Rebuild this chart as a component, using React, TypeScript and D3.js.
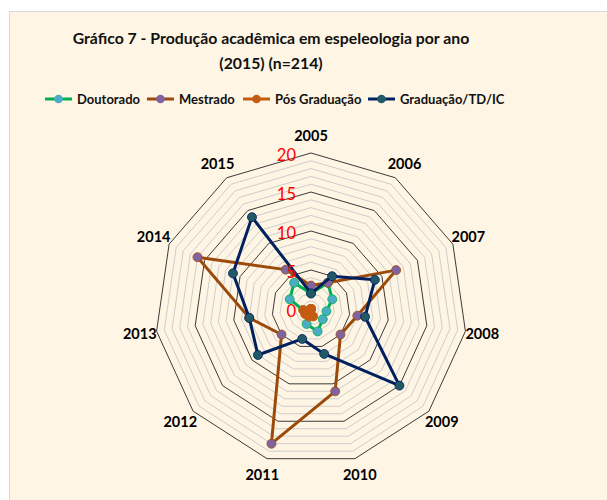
import { useEffect, useRef } from "react";
import * as d3 from "d3";

const years = ["2005", "2006", "2007", "2008", "2009", "2010", "2011", "2012", "2013", "2014", "2015"];
const doutorado = [2, 4, 3, 2, 2, 3, 2, 0, 1, 3, 4];
const mestrado = [3, 4, 12, 6, 5, 11, 18, 5, 8, 16, 6];
const posGraduacao = [0, 0, 0, 0, 0, 1, 1, 1, 1, 0, 0];
const graduacao = [2, 5, 9, 7, 15, 6, 4, 9, 8, 11, 14];
const radialTicks = [0, 5, 10, 15, 20];

const seriesList = [
    { name: "Doutorado", values: doutorado, line: "#00B050", marker: "#4BACC6" },
    { name: "Mestrado", values: mestrado, line: "#9C4A0A", marker: "#8064A2" },
    { name: "Pós Graduação", values: posGraduacao, line: "#C55A11", marker: "#C55A11" },
    { name: "Graduação/TD/IC", values: graduacao, line: "#002060", marker: "#215967" },
];

export default function App() {
    const ref = useRef<SVGSVGElement | null>(null);

    useEffect(() => {
        if (!ref.current) return;
        const width = 607;
        const height = 500;
        const cx = 311;
        const cy = 309;
        const font = "Lato, 'Liberation Sans', sans-serif";

        const svg = d3.select(ref.current).attr("width", width).attr("height", height);
        svg.selectAll("*").remove();

        svg.append("rect").attr("width", width).attr("height", height).attr("fill", "#ffffff");
        svg.append("rect")
            .attr("x", 9.5).attr("y", 11.5)
            .attr("width", width).attr("height", height)
            .attr("fill", "#FEF5E4")
            .attr("stroke", "#D9D9D9");

        // title
        const title = svg.append("text")
            .attr("text-anchor", "middle")
            .attr("font-family", font)
            .attr("font-weight", "bold")
            .attr("font-size", "15.8px")
            .attr("fill", "#111");
        title.append("tspan").attr("x", 271).attr("y", 44).text("Gráfico 7 - Produção acadêmica em espeleologia por ano");
        title.append("tspan").attr("x", 271).attr("y", 69).text("(2015) (n=214)");

        // legend
        const legendX = [45, 147, 243, 368];
        seriesList.forEach((s, i) => {
            const g = svg.append("g").attr("transform", `translate(${legendX[i]}, 99)`);
            g.append("line").attr("x1", 0).attr("x2", 27).attr("stroke", s.line).attr("stroke-width", 3);
            g.append("circle").attr("cx", 13.5).attr("r", 4.3).attr("fill", s.marker);
            g.append("text")
                .attr("x", 32).attr("dy", "0.35em")
                .attr("font-family", font).attr("font-weight", "bold")
                .attr("font-size", "13px").attr("fill", "#111")
                .text(s.name);
        });

        const r = d3.scaleLinear().domain([0, 20]).range([0, 156]);
        const angle = (i: number) => (i * 2 * Math.PI) / years.length;

        const plot = svg.append("g").attr("transform", `translate(${cx}, ${cy})`);

        // grid rings
        const ringLine = d3.lineRadial<number>()
            .angle((_, i) => angle(i))
            .radius((d) => r(d))
            .curve(d3.curveLinearClosed);
        d3.range(1, 21).forEach((v) => {
            const major = v % 5 === 0;
            plot.append("path")
                .attr("d", ringLine(years.map(() => v)) as string)
                .attr("fill", "none")
                .attr("stroke", major ? "#3a3a3a" : "#C8C8C8")
                .attr("stroke-width", major ? 1 : 0.9);
        });

        // category labels
        years.forEach((y, i) => {
            const a = angle(i);
            const rr = 173;
            plot.append("text")
                .attr("x", rr * Math.sin(a))
                .attr("y", -rr * Math.cos(a))
                .attr("dy", "0.35em")
                .attr("text-anchor", "middle")
                .attr("font-family", font).attr("font-weight", "bold")
                .attr("font-size", "14.5px").attr("fill", "#000")
                .text(y);
        });

        // series
        const seriesLine = d3.lineRadial<number>()
            .angle((_, i) => angle(i))
            .radius((d) => r(d))
            .curve(d3.curveLinearClosed);
        seriesList.forEach((s) => {
            plot.append("path")
                .attr("d", seriesLine(s.values) as string)
                .attr("fill", "none")
                .attr("stroke", s.line)
                .attr("stroke-width", 3)
                .attr("stroke-linejoin", "round");
            plot.selectAll(null)
                .data(s.values)
                .enter()
                .append("circle")
                .attr("cx", (d, i) => r(d) * Math.sin(angle(i)))
                .attr("cy", (d, i) => -r(d) * Math.cos(angle(i)))
                .attr("r", 4.5)
                .attr("fill", s.marker)
                .attr("stroke", s.line)
                .attr("stroke-width", 0.8);
        });

        // radial tick labels
        radialTicks.forEach((t) => {
            plot.append("text")
                .attr("x", -15)
                .attr("y", -r(t) + 2)
                .attr("dy", "0.35em")
                .attr("text-anchor", "end")
                .attr("font-family", font)
                .attr("font-size", "16.5px")
                .attr("fill", "#FF0000")
                .text(t);
        });
    }, []);

    return (
        <svg
            ref={(el) => { if (el) ref.current = el; }}
            style={{ position: "absolute", left: 0, top: 0, display: "block" }}
        />
    );
}
